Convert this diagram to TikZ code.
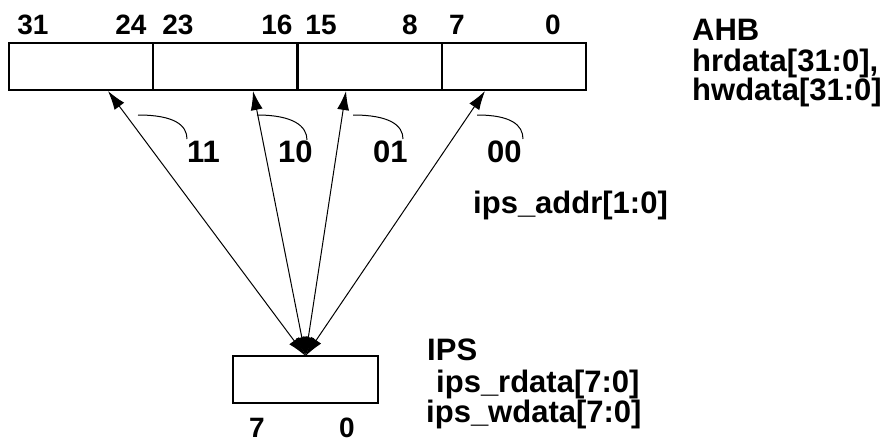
\documentclass[tikz,border=0pt]{standalone}
\usepackage{fontspec}
\setmainfont{Liberation Sans}
\usetikzlibrary{arrows.meta}
\begin{document}
\begin{tikzpicture}[x=1pt,y=-1pt,
  cell/.style={draw,line width=2pt,minimum width=144pt,minimum height=47pt,inner sep=0pt,outer sep=0pt,anchor=north west},
  bitlbl/.style={font=\fontsize{28}{30}\selectfont\bfseries,anchor=base,inner sep=0pt},
  txtlbl/.style={font=\fontsize{31}{31}\selectfont\bfseries,anchor=base west,inner sep=0pt},
  wire/.style={line width=1pt,{Latex[length=19pt,width=12pt]}-{Latex[length=19pt,width=12pt]}},
  leader/.style={line width=1pt}]
\useasboundingbox (0,0) rectangle (885,444);
% AHB register
\node[cell] (c3) at (9,43) {};
\node[cell] (c2) at (153,43) {};
\node[cell] (c1) at (298,43) {};
\node[cell] (c0) at (442,43) {};
% IPS register
\node[cell,minimum width=145pt] (ips) at (233,356) {};
% bit numbers
\node[bitlbl] (b31) at (33,35) {31};
\node[bitlbl] (b24) at (131,35) {24};
\node[bitlbl] (b23) at (178,35) {23};
\node[bitlbl] (b16) at (277,35) {16};
\node[bitlbl] (b15) at (321,35) {15};
\node[bitlbl] (b8) at (410,35) {8};
\node[bitlbl] (b7) at (457,35) {7};
\node[bitlbl] (b0) at (553,35) {0};
\node[bitlbl] (s7) at (257,437) {7};
\node[bitlbl] (s0) at (347,437) {0};
% arrow ends on the AHB register
\coordinate (t3) at (108,91);
\coordinate (t2) at (253,91);
\coordinate (t1) at (346,91);
\coordinate (t0) at (485,91);
\draw[wire] (ips.north) -- (t3);
\draw[wire] (ips.north) -- (t2);
\draw[wire] (ips.north) -- (t1);
\draw[wire] (ips.north) -- (t0);
% address labels
\node[txtlbl] (a11) at (187,162) {11};
\node[txtlbl] (a10) at (278,162) {10};
\node[txtlbl] (a01) at (373,162) {01};
\node[txtlbl] (a00) at (487,162) {00};
\coordinate (l3) at (138,115);
\coordinate (l2) at (257,115);
\coordinate (l1) at (353,115);
\coordinate (l0) at (477,115);
\draw[leader] (l3) .. controls +(36,0) and +(0,-14) .. (187,139);
\draw[leader] (l2) .. controls +(36,0) and +(0,-14) .. (307,140);
\draw[leader] (l1) .. controls +(36,0) and +(0,-14) .. (403,139);
\draw[leader] (l0) .. controls +(34,0) and +(0,-14) .. (523,139);
\node[txtlbl] (addr) at (473,213) {ips\_addr[1:0]};
% right-hand texts
\node[txtlbl] (ahb) at (692,41) {AHB};
\node[txtlbl] (hr) at (692,71) {hrdata[31:0],};
\node[txtlbl] (hw) at (692,100) {hwdata[31:0]};
\node[txtlbl] (ipst) at (427,360) {IPS};
\node[txtlbl] (ipr) at (436,392) {ips\_rdata[7:0]};
\node[txtlbl] (ipw) at (426,422) {ips\_wdata[7:0]};
\end{tikzpicture}
\end{document}
